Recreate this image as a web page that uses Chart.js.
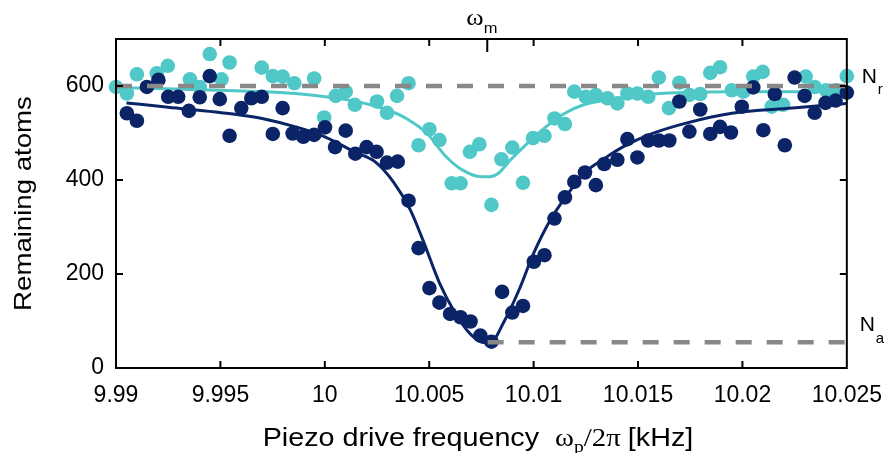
<!DOCTYPE html>
<html>
<head>
<meta charset="utf-8">
<script src="https://cdn.jsdelivr.net/npm/chart.js@4"></script>
<style>
  html,body{margin:0;padding:0;background:#fff;}
  #wrap{width:896px;height:453px;}
</style>
</head>
<body>
<div id="wrap"><canvas id="c" width="896" height="453"></canvas></div>
<script>
// ---- data ----
const cyanFreq = [9.99, 9.99052, 9.9910, 9.99195, 9.99248, 9.99354, 9.99401, 9.99449, 9.99505, 9.99544, 9.99698, 9.99751, 9.99798, 9.99854, 9.99949, 9.99997, 10.00052, 10.0010, 10.00144, 10.0025, 10.00298, 10.00346, 10.00401, 10.00449, 10.00501, 10.00549, 10.00608, 10.0065, 10.00695, 10.0074, 10.00798, 10.00846, 10.00898, 10.00949, 10.00997, 10.01052, 10.011, 10.0115, 10.01195, 10.0125, 10.01298, 10.01354, 10.01401, 10.01449, 10.01497, 10.01549, 10.016, 10.01648, 10.01698, 10.01746, 10.01798, 10.01846, 10.01893, 10.01949, 10.02005, 10.02052, 10.02097, 10.0214, 10.02195, 10.02303, 10.02346, 10.02401, 10.02449, 10.025];
const cyanAtoms = [598, 584, 625, 627, 643, 614, 598, 668, 614, 650, 639, 621, 620, 606, 616, 533, 579, 588, 560, 567, 543, 579, 606, 474, 508, 485, 393, 393, 460, 476, 347, 444, 469, 394, 489, 494, 531, 519, 588, 577, 581, 574, 563, 584, 584, 577, 618, 553, 607, 581, 583, 628, 640, 591, 588, 620, 630, 556, 560, 620, 598, 591, 591, 621];

const navyFreq = [9.99052, 9.9910, 9.99148, 9.99203, 9.99250, 9.99298, 9.99349, 9.99401, 9.99449, 9.99497, 9.99544, 9.9960, 9.99648, 9.99698, 9.99751, 9.99798, 9.99846, 9.99897, 9.99949, 10.00001, 10.00049, 10.0010, 10.00146, 10.0020, 10.00248, 10.00298, 10.00349, 10.00401, 10.00449, 10.00501, 10.00549, 10.0060, 10.0065, 10.00698, 10.00745, 10.00798, 10.00849, 10.00898, 10.00949, 10.01001, 10.01052, 10.011, 10.0115, 10.01195, 10.01246, 10.01298, 10.01338, 10.01401, 10.01449, 10.01497, 10.01549, 10.016, 10.0165, 10.01698, 10.01746, 10.01798, 10.01846, 10.01893, 10.01945, 10.01997, 10.02052, 10.021, 10.02155, 10.02203, 10.0225, 10.02298, 10.02346, 10.02398, 10.02446, 10.025];
const navyAtoms = [542, 526, 598, 613, 577, 577, 547, 576, 621, 572, 494, 553, 574, 577, 498, 553, 499, 492, 496, 512, 470, 505, 456, 470, 460, 437, 439, 356, 255, 170, 139, 115, 108, 99, 69, 56, 162, 118, 132, 226, 240, 318, 363, 396, 416, 389, 434, 443, 487, 448, 484, 484, 484, 567, 503, 550, 498, 513, 501, 556, 597, 506, 583, 474, 618, 579, 543, 564, 569, 586];

// fitted curves
const navyFitFreq = [9.9905, 9.9925, 9.9957, 9.9970, 9.9986, 10.0000, 10.0015, 10.0024, 10.0033, 10.0041, 10.0047, 10.0055, 10.0062, 10.0068, 10.0074, 10.0079, 10.0086, 10.0093, 10.0100, 10.0108, 10.0116, 10.0124, 10.0134, 10.0143, 10.0157, 10.0173, 10.0195, 10.0224, 10.025];
const navyFitAtoms = [564, 555, 540, 531, 513, 492, 458, 439, 395, 336, 272, 180, 120, 81, 57, 53, 100, 166, 244, 315, 368, 414, 446, 471, 499, 521, 542, 553, 563];
const cyanFitFreq = [9.99, 9.9957, 9.9986, 10.0015, 10.0030, 10.0039, 10.0049, 10.0058, 10.0066, 10.0075, 10.0079, 10.0083, 10.0089, 10.0097, 10.0105, 10.0115, 10.0124, 10.0135, 10.0157, 10.0195, 10.025];
const cyanFitAtoms = [597, 590, 584, 567, 549, 531, 499, 450, 421, 407, 407, 414, 443, 478, 510, 542, 560, 570, 583, 588, 588];

// reference levels
const nrFreq = [9.99, 10.025];
const nrAtoms = [600, 600];
const naFreq = [10.0078, 10.025];
const naAtoms = [55, 55];
const omegaM = 10.00778;

// axes
const xTickValues = [9.99, 9.995, 10, 10.005, 10.01, 10.015, 10.02, 10.025];
const xTickLabels = ['9.99', '9.995', '10', '10.005', '10.01', '10.015', '10.02', '10.025'];
const yTickValues = [0, 200, 400, 600];
const yTickLabels = ['0', '200', '400', '600'];

const NAVY = '#0b2468';
const CYAN = '#50c8c8';
const GREY = '#888888';
const SANS = '"Liberation Sans", Arial, Helvetica, sans-serif';
const SERIF = '"Liberation Serif", "Times New Roman", serif';

const pts = (xs, ys) => xs.map((v, i) => ({x: v, y: ys[i]}));

function txt(ctx, s, x, y, font, sx, align) {
  ctx.save();
  ctx.font = font;
  ctx.textBaseline = 'alphabetic';
  ctx.textAlign = align || 'left';
  ctx.translate(x, y);
  ctx.scale(sx, 1);
  ctx.fillText(s, 0, 0);
  ctx.restore();
}
function width(ctx, s, font, sx) { ctx.save(); ctx.font = font; const w = ctx.measureText(s).width * sx; ctx.restore(); return w; }

const framePlugin = {
  id: 'frame',
  afterDraw(chart) {
    const {ctx, chartArea: a, scales: {x, y}} = chart;
    ctx.save();
    ctx.strokeStyle = '#000';
    ctx.lineWidth = 2;
    ctx.strokeRect(a.left, a.top, a.right - a.left, a.bottom - a.top);
    ctx.beginPath();
    xTickValues.forEach(v => {
      const px = x.getPixelForValue(v);
      if (px <= a.left + 1 || px >= a.right - 1) return;
      ctx.moveTo(px, a.bottom); ctx.lineTo(px, a.bottom - 7);
      ctx.moveTo(px, a.top); ctx.lineTo(px, a.top + 7);
    });
    yTickValues.forEach(v => {
      const py = y.getPixelForValue(v);
      if (py >= a.bottom - 1 || py <= a.top + 1) return;
      ctx.moveTo(a.left, py); ctx.lineTo(a.left + 7, py);
      ctx.moveTo(a.right, py); ctx.lineTo(a.right - 7, py);
    });
    const wm = x.getPixelForValue(omegaM);
    ctx.moveTo(wm, a.top); ctx.lineTo(wm, a.top + 13);
    ctx.stroke();

    ctx.fillStyle = '#000';
    // y title
    ctx.save();
    ctx.translate(31, (a.top + a.bottom) / 2);
    ctx.rotate(-Math.PI / 2);
    ctx.scale(1.15, 1);
    ctx.font = '24px ' + SANS;
    ctx.textAlign = 'center';
    ctx.textBaseline = 'alphabetic';
    ctx.fillText('Remaining atoms', 0, 0);
    ctx.restore();

    // x title
    const fs = '25px ' + SANS, fr = '25px ' + SERIF, fsub = '17px ' + SERIF, sx = 1.15;
    const parts = [
      ['Piezo drive frequency  ', fs, 0],
      ['\u03c9', fr, 0],
      ['p', fsub, 6],
      ['/2\u03c0 ', fr, 0],
      ['[kHz]', fs, 0]
    ];
    let total = 0;
    parts.forEach(p => total += width(ctx, p[0], p[1], sx));
    let cx = 478 - total / 2;
    const base = 446;
    parts.forEach(p => { txt(ctx, p[0], cx, base + p[2], p[1], sx); cx += width(ctx, p[0], p[1], sx); });

    // omega_m on top
    const wW = width(ctx, '\u03c9', '24px ' + SERIF, 1.1);
    txt(ctx, '\u03c9', wm - 21, 25, '24px ' + SERIF, 1.1);
    txt(ctx, 'm', wm - 21 + wW, 33, '15px ' + SANS, 1.1);

    // N_r and N_a
    const yr = y.getPixelForValue(600), ya = y.getPixelForValue(55);
    txt(ctx, 'N', a.right + 15, yr - 3, '21px ' + SANS, 1.0);
    txt(ctx, 'r', a.right + 31, yr + 8, '15px ' + SANS, 1.0);
    txt(ctx, 'N', a.right + 13, ya - 11, '21px ' + SANS, 1.0);
    txt(ctx, 'a', a.right + 29, ya + 1, '15px ' + SANS, 1.0);
    ctx.restore();
  }
};

new Chart(document.getElementById('c'), {
  type: 'scatter',
  data: {
    datasets: [
      {label: 'Nr', data: pts(nrFreq, nrAtoms), showLine: true, borderColor: GREY, borderWidth: 4.5, borderDash: [16, 15], pointRadius: 0, order: 0, clip: false},
      {label: 'Na', data: pts(naFreq, naAtoms), showLine: true, borderColor: GREY, borderWidth: 4.5, borderDash: [16, 15], pointRadius: 0, order: 0, clip: false},
      {label: 'navy fit', data: pts(navyFitFreq, navyFitAtoms), showLine: true, borderColor: NAVY, borderWidth: 3, pointRadius: 0, cubicInterpolationMode: 'monotone', order: 1},
      {label: 'navy', data: pts(navyFreq, navyAtoms), backgroundColor: NAVY, borderColor: NAVY, pointRadius: 7.3, borderWidth: 0, order: 2, clip: false},
      {label: 'cyan fit', data: pts(cyanFitFreq, cyanFitAtoms), showLine: true, borderColor: CYAN, borderWidth: 3, pointRadius: 0, cubicInterpolationMode: 'monotone', order: 3},
      {label: 'cyan', data: pts(cyanFreq, cyanAtoms), backgroundColor: CYAN, borderColor: CYAN, pointRadius: 7.3, borderWidth: 0, order: 4, clip: false}
    ]
  },
  options: {
    responsive: false,
    animation: false,
    events: [],
    layout: {padding: {left: 0, top: 39, right: 45, bottom: 0}},
    plugins: {legend: {display: false}, tooltip: {enabled: false}},
    scales: {
      x: {
        type: 'linear', min: 9.99, max: 10.025,
        grid: {display: false, drawTicks: false},
        border: {display: false},
        afterBuildTicks: s => { s.ticks = xTickValues.map(v => ({value: v})); },
        afterFit: s => { s.height = 85; },
        ticks: {
          padding: 14, color: '#000', maxRotation: 0, autoSkip: false,
          font: {family: SANS, size: 23},
          callback: (v, i) => xTickLabels[i]
        }
      },
      y: {
        type: 'linear', min: 0, max: 700,
        grid: {display: false, drawTicks: false},
        border: {display: false},
        afterBuildTicks: s => { s.ticks = yTickValues.map(v => ({value: v})); },
        afterFit: s => { s.width = 116; },
        ticks: {
          padding: 12, color: '#000',
          font: {family: SANS, size: 23},
          callback: (v, i) => yTickLabels[i]
        }
      }
    }
  },
  plugins: [framePlugin]
});
</script>
</body>
</html>
